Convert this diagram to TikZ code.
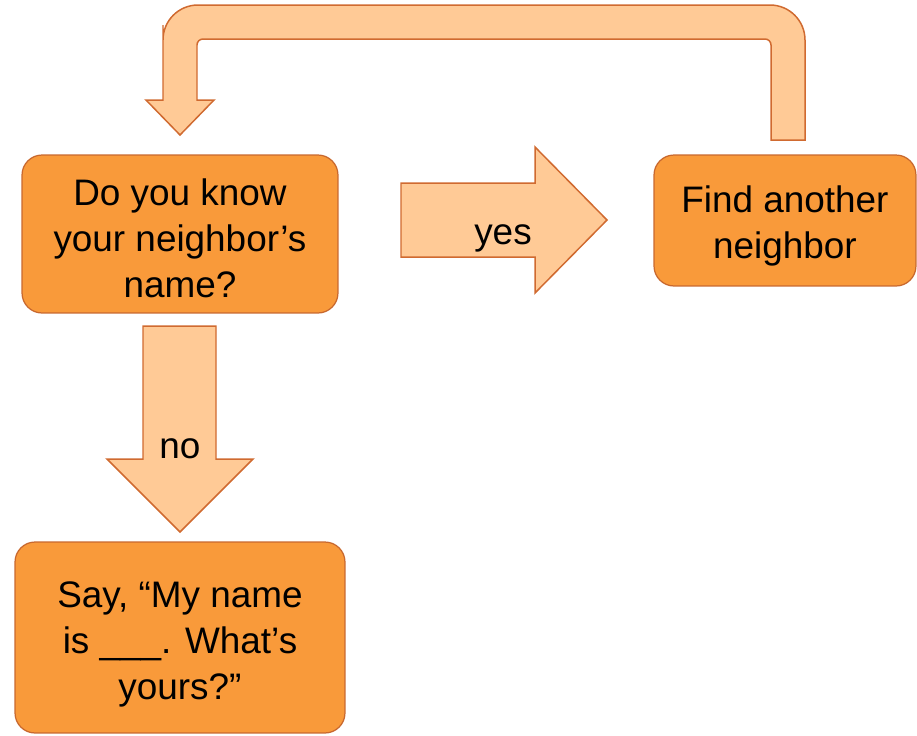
\documentclass[tikz,border=0pt]{standalone}
\usepackage{fontspec}
\setmainfont{Liberation Sans}
\definecolor{boxfill}{HTML}{F99A3A}
\definecolor{boxline}{HTML}{C8682E}
\definecolor{arrfill}{HTML}{FFCA96}
\definecolor{arrline}{HTML}{D06A30}
\usetikzlibrary{positioning}

\begin{document}
\begin{tikzpicture}[
  x=0.02cm, y=-0.02cm,
  stepbox/.style={rectangle, draw=boxline, fill=boxfill,
                  rounded corners=0.4cm, line width=0.7pt},
  steptext/.style={align=center, inner sep=0pt,
                   font=\fontsize{21}{26.2}\selectfont},
  blockarr/.style={draw=arrline, fill=arrfill, line width=0.85pt,
                   line join=miter},
  arrlabel/.style={inner sep=0pt, font=\fontsize{21}{26.2}\selectfont}
]
  \useasboundingbox (0,0) rectangle (917,735);

  % the three steps
  \node[stepbox, minimum width=6.32cm, minimum height=3.16cm] (know)
    at (180,234) {};
  \node[steptext] (knowtext) at ([yshift=-0.08cm]know.center)
    {Do you know\\your neighbor’s\\name?};
  \node[stepbox, minimum width=5.24cm, minimum height=2.62cm] (another)
    at (785,220.5) {};
  \node[steptext] (anothertext) at ([yshift=-0.1cm]another.center)
    {Find another\\neighbor};
  \node[stepbox, minimum width=6.6cm, minimum height=3.82cm] (say)
    at (180,637.5) {};
  \node[steptext] (saytext) at ([yshift=-0.13cm]say.center)
    {Say, “My name\\is \_\_\_. What’s\\yours?”};

  % yes arrow
  \draw[blockarr] (401,183) -- (535,183) -- (535,147) -- (607,220)
    -- (535,293) -- (535,257) -- (401,257) -- cycle;
  \node[arrlabel] (yes) at (503,238) {yes};

  % no arrow
  \draw[blockarr] (143,326) -- (216,326) -- (216,459) -- (253,459)
    -- (180,532) -- (107,459) -- (143,459) -- cycle;
  \node[arrlabel] (no) at (180,449) {no};

  % back to the start
  \draw[blockarr] (805,140) -- (805,110) [rounded corners=0.7cm]
    -- (805,5) -- (163,5) -- (163,60) [sharp corners]
    -- (163,100) -- (146,100) -- (180,135) -- (214,100) -- (197,100)
    -- (197,90) [rounded corners=0.12cm] -- (197,70) -- (197,39)
    -- (771,39) -- (771,70) [sharp corners] -- (771,140) -- cycle;
\end{tikzpicture}
\end{document}
